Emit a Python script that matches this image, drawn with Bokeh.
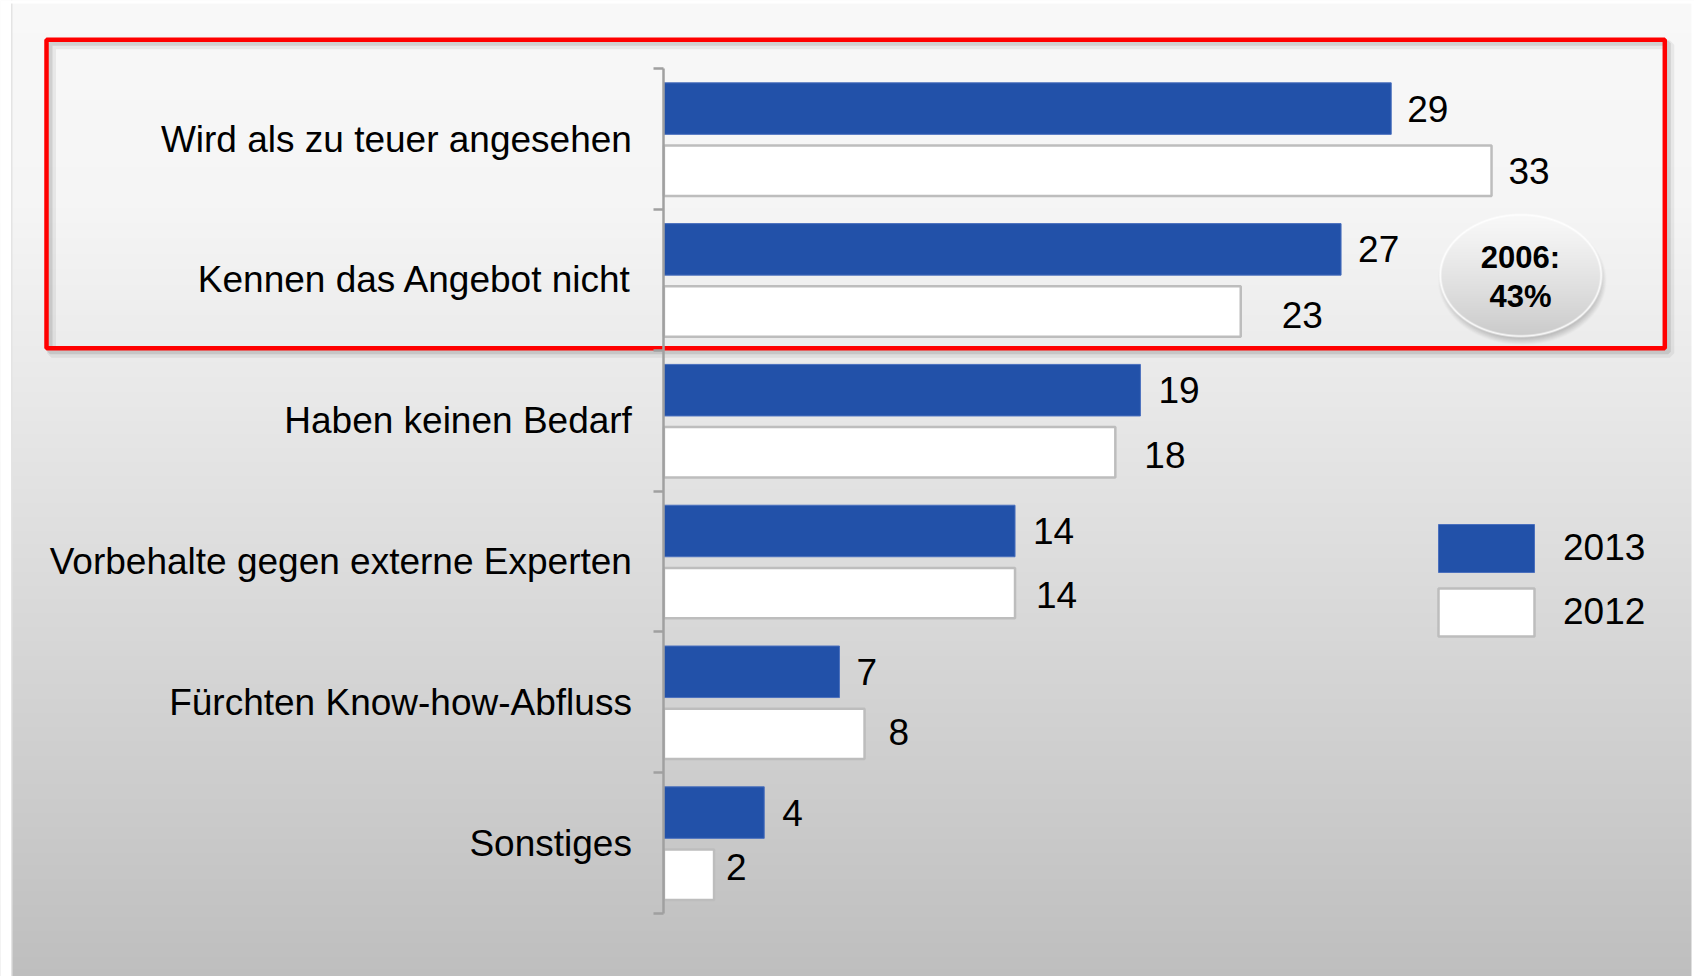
import numpy as np
from bokeh.plotting import figure
from bokeh.models import (ColumnDataSource, Range1d, LinearAxis, FixedTicker,
                          Legend, LegendItem, Label)
from bokeh.embed import file_html
from bokeh.resources import INLINE

# ---------------- data ----------------
categories = ["Wird als zu teuer angesehen", "Kennen das Angebot nicht",
              "Haben keinen Bedarf", "Vorbehalte gegen externe Experten",
              "Fürchten Know-how-Abfluss", "Sonstiges"]
values_2013 = [29, 27, 19, 14, 7, 4]
values_2012 = [33, 23, 18, 14, 8, 2]
series_names = ["2013", "2012"]
callout_lines = ["2006:", "43%"]

# ---------------- style / layout ----------------
W, H = 1694, 976
PAGE = 0
AXIS_PX = 663.4      # reference pixel x of the value axis
UNIT_PX = 25.08      # pixels per value unit
CAT_TOP_PX = 68.1    # reference pixel y of the first category boundary
CAT_PX = 140.8       # pixels per category
FONT = "Liberation Sans"
BLUE = "#2251a9"
n = len(categories)

x_start = -(AXIS_PX - PAGE) / UNIT_PX
x_end = (W + PAGE - AXIS_PX) / UNIT_PX
y_end = (n - 0.5) + (CAT_TOP_PX - PAGE) / CAT_PX
y_start = y_end - H / CAT_PX


def px2x(rx):
    return (rx - AXIS_PX) / UNIT_PX


def px2y(ry):
    return (n - 0.5) - (ry - CAT_TOP_PX) / CAT_PX


p = figure(width=W, height=H, x_range=Range1d(x_start, x_end),
           y_range=Range1d(y_start, y_end), output_backend="svg",
           toolbar_location=None, min_border=0, x_axis_location=None,
           y_axis_location=None, outline_line_color=None,
           border_fill_color="white", background_fill_color="white")
p.xgrid.visible = False
p.ygrid.visible = False

# ---- background gradient (vertical) ----
ry = np.arange(H) + PAGE + 0.5
g = np.interp(ry, [0, 200, 400, 620, 820, 976], [248, 245, 232, 216, 202, 190])
bg = np.zeros((H, 16, 4), dtype=np.uint8)
bg[..., 0:3] = np.round(g).astype(np.uint8)[:, None, None]
bg[..., 3] = 255
bg_img = np.flipud(bg).copy().view(np.uint32).reshape(H, 16)
p.image_rgba(image=[bg_img], x=x_start, y=y_start, dw=x_end - x_start,
             dh=y_end - y_start)
# slide margins
p.quad(left=[x_start], right=[px2x(10.5)], bottom=[y_start], top=[y_end],
       fill_color="white", line_color=None)
p.quad(left=[px2x(10.5)], right=[px2x(12)], bottom=[y_start], top=[y_end],
       fill_color="#e4e4e4", line_color=None)
p.quad(left=[x_start], right=[x_end], bottom=[px2y(3)], top=[y_end],
       fill_color="white", line_color=None)
p.quad(left=[px2x(1691)], right=[x_end], bottom=[y_start], top=[y_end],
       fill_color="white", line_color=None)

# ---- bars ----
y_centers = [float(n - 1 - i) for i in range(n)]
src13 = ColumnDataSource(dict(y=[c + 0.216 for c in y_centers], v=values_2013))
src12 = ColumnDataSource(dict(y=[c - 0.225 for c in y_centers], v=values_2012))
r13 = p.hbar(y="y", left=0, right="v", height=0.366, source=src13,
             fill_color=BLUE, line_color="#4a6fbd", line_width=1)
r12 = p.hbar(y="y", left=0, right="v", height=0.358, source=src12,
             fill_color="white", line_color="#bdbdbd", line_width=2.5)

# ---- value labels (with small pixel nudges as in the original) ----
nudge_x13 = [16, 17, 18, 18, 17, 18]
nudge_y13 = [0, 0, 0, 0, 0, 0]
nudge_x12 = [17, 41, 29, 21, 24, 12]
nudge_y12 = [0, 4, 3, 2, -2, -8]
lab = ColumnDataSource(dict(
    x=values_2013 + values_2012,
    y=[c + 0.216 for c in y_centers] + [c - 0.225 for c in y_centers],
    t=[str(v) for v in values_2013 + values_2012],
    xo=nudge_x13 + nudge_x12,
    yo=nudge_y13 + nudge_y12))
p.text(x="x", y="y", text="t", x_offset="xo", y_offset="yo", source=lab,
       text_font={"value": FONT}, text_font_size="37px", text_color="black",
       text_align="left", text_baseline="middle")

# ---- category axis at x = 0 ----
yaxis = LinearAxis(
    fixed_location=0,
    ticker=FixedTicker(ticks=y_centers,
                       minor_ticks=[c + 0.5 for c in y_centers] + [-0.5]),
    major_label_overrides={c: cat for c, cat in zip(y_centers, categories)},
    bounds=(-0.5, n - 0.5),
    axis_line_color="#a0a0a0", axis_line_width=2.5,
    major_tick_line_color=None, major_tick_out=0, major_tick_in=0,
    minor_tick_line_color="#a0a0a0", minor_tick_line_width=2.5,
    minor_tick_out=10, minor_tick_in=0,
    major_label_standoff=22,
    major_label_text_font=FONT, major_label_text_font_size="37px",
    major_label_text_color="black")
p.add_layout(yaxis, "left")

# ---- red highlight box with soft shadow ----
bl, br, bt, bb = 46, 1664.3, 39.3, 347.7
for off, lw, al in [(5, 9, 0.06), (3.5, 5, 0.10)]:
    p.quad(left=[px2x(bl + off)], right=[px2x(br + off)],
           top=[px2y(bt + off)], bottom=[px2y(bb + off)],
           fill_alpha=0, line_color="black", line_alpha=al, line_width=lw)
p.quad(left=[px2x(bl)], right=[px2x(br)], top=[px2y(bt)], bottom=[px2y(bb)],
       fill_alpha=0, line_color="#ff0000", line_width=4.5)

# ---- callout ellipse (gradient image) ----
cx, cy, a, b = 1520.3, 275.0, 81.3, 61.5
ex0, ex1, ey0, ey1 = 1430, 1612, 205, 352
X, Y = np.meshgrid(np.arange(ex0, ex1) + 0.5, np.arange(ey0, ey1) + 0.5)


def sdist(ccx, ccy):
    dx, dy = (X - ccx) / a, (Y - ccy) / b
    d = np.sqrt(dx ** 2 + dy ** 2) + 1e-9
    grad = np.sqrt((dx / a) ** 2 + (dy / b) ** 2) / d + 1e-9
    return (d - 1) / grad


sd = sdist(cx, cy)
ae = np.clip(0.5 - sd, 0, 1)
t = np.clip((Y - (cy - b)) / (2 * b), 0, 1)
ce = 248 - 46 * t ** 1.2
ce = np.where(sd > -2.2, 255 - (255 - ce) * np.clip(-sd - 1.2, 0, 1), ce)
sds = sdist(cx + 1.5, cy + 5)
as_ = 0.32 * np.clip((3 - sds) / 7, 0, 1)
ao = ae + as_ * (1 - ae)
co = np.where(ao > 0, (ce * ae + 90 * as_ * (1 - ae)) / np.maximum(ao, 1e-9), 0)
eimg = np.zeros(X.shape + (4,), dtype=np.uint8)
eimg[..., 0:3] = np.clip(np.round(co), 0, 255).astype(np.uint8)[..., None]
eimg[..., 3] = np.clip(np.round(ao * 255), 0, 255).astype(np.uint8)
eimg = np.flipud(eimg).copy().view(np.uint32).reshape(X.shape)
p.image_rgba(image=[eimg], x=px2x(ex0), y=px2y(ey1),
             dw=(ex1 - ex0) / UNIT_PX, dh=(ey1 - ey0) / CAT_PX)
for line_txt, ly in zip(callout_lines, [257, 296]):
    p.add_layout(Label(x=px2x(1520), y=px2y(ly), text=line_txt,
                       text_font=FONT, text_font_size="31px",
                       text_font_style="bold", text_color="black",
                       text_align="center", text_baseline="middle"))

# ---- legend ----
# legend glyph area top-left at reference (1426, 518); 124 px tall
legend = Legend(items=[LegendItem(label=series_names[0], renderers=[r13]),
                       LegendItem(label=series_names[1], renderers=[r12])],
                location=(1426 - PAGE, H - (518 - PAGE) - 124),
                orientation="vertical",
                glyph_width=120, glyph_height=60, label_height=60,
                spacing=4, label_standoff=17, padding=0, margin=0,
                border_line_color=None, background_fill_alpha=0,
                label_text_font=FONT, label_text_font_size="37px",
                label_text_color="black")
p.add_layout(legend)

open("out.html", "w").write(file_html(p, INLINE))
